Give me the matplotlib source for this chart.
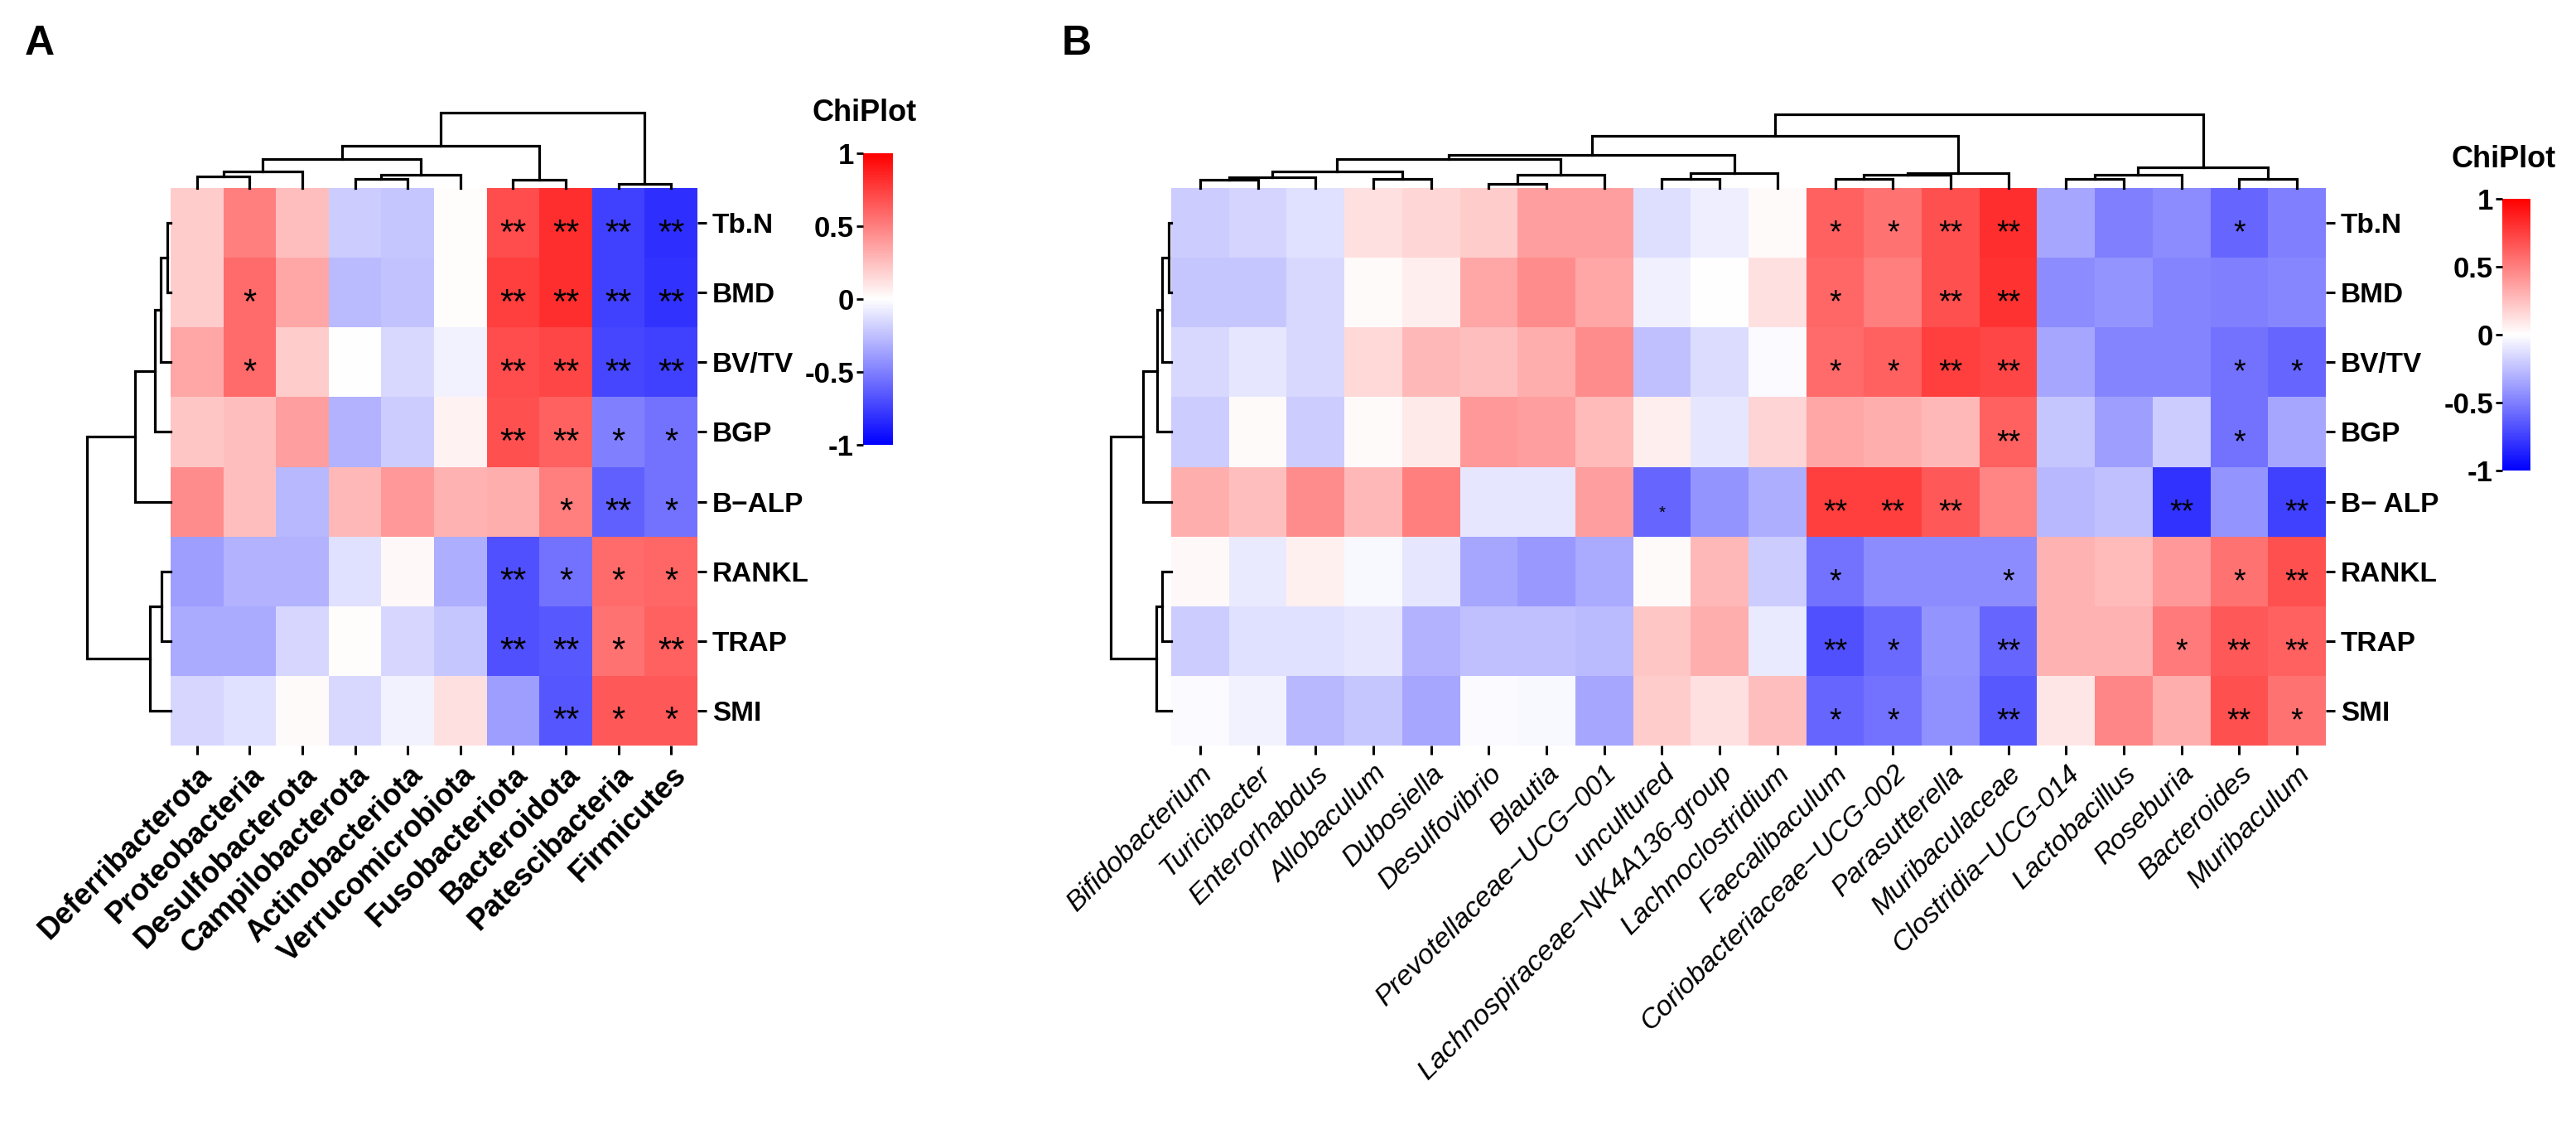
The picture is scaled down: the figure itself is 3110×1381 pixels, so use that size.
import matplotlib
matplotlib.use("Agg")
import matplotlib.pyplot as plt
import numpy as np
from matplotlib.colors import LinearSegmentedColormap

plt.rcParams['font.family'] = ['Liberation Sans', 'DejaVu Sans']

# ---------------- data ----------------
rows_a = ['Tb.N', 'BMD', 'BV/TV', 'BGP', 'B−ALP', 'RANKL', 'TRAP', 'SMI']
rows_b = ['Tb.N', 'BMD', 'BV/TV', 'BGP', 'B− ALP', 'RANKL', 'TRAP', 'SMI']

cols_a = ['Deferribacterota', 'Proteobacteria', 'Desulfobacterota', 'Campilobacterota',
          'Actinobacteriota', 'Verrucomicrobiota', 'Fusobacteriota', 'Bacteroidota',
          'Patescibacteria', 'Firmicutes']

vals_a = np.array([
    [0.20, 0.50, 0.25, -0.20, -0.22, 0.01, 0.70, 0.82, -0.75, -0.82],
    [0.20, 0.58, 0.35, -0.27, -0.24, 0.01, 0.75, 0.82, -0.75, -0.80],
    [0.35, 0.58, 0.20, 0.00, -0.15, -0.05, 0.70, 0.72, -0.72, -0.75],
    [0.22, 0.25, 0.38, -0.30, -0.20, 0.05, 0.68, 0.62, -0.50, -0.55],
    [0.45, 0.25, -0.28, 0.28, 0.40, 0.30, 0.32, 0.50, -0.62, -0.55],
    [-0.38, -0.30, -0.30, -0.12, 0.03, -0.32, -0.68, -0.55, 0.58, 0.60],
    [-0.33, -0.33, -0.16, 0.01, -0.16, -0.22, -0.68, -0.65, 0.55, 0.62],
    [-0.16, -0.12, 0.02, -0.15, -0.05, 0.12, -0.38, -0.66, 0.65, 0.65],
])

# 0 = none, 1 = *, 2 = **, s = small *
sig_a = ["0000002222", "0100002222", "0100002222", "0000002211",
         "0000000121", "0000002111", "0000002212", "0000000211"]

cols_b = ['Bifidobacterium', 'Turicibacter', 'Enterorhabdus', 'Allobaculum', 'Dubosiella',
          'Desulfovibrio', 'Blautia', 'Prevotellaceae−UCG−001', 'uncultured',
          'Lachnospiraceae−NK4A136-group', 'Lachnoclostridium', 'Faecalibaculum',
          'Coriobacteriaceae−UCG-002', 'Parasutterella', 'Muribaculaceae',
          'Clostridia−UCG-014', 'Lactobacillus', 'Roseburia', 'Bacteroides', 'Muribaculum']

vals_b = np.array([
    [-0.20, -0.17, -0.12, 0.12, 0.16, 0.20, 0.38, 0.38, -0.13, -0.07, 0.02,
     0.62, 0.55, 0.68, 0.82, -0.35, -0.50, -0.45, -0.60, -0.50],
    [-0.22, -0.22, -0.15, 0.02, 0.07, 0.35, 0.45, 0.35, -0.06, 0.00, 0.12,
     0.60, 0.50, 0.68, 0.80, -0.45, -0.42, -0.48, -0.50, -0.47],
    [-0.15, -0.10, -0.15, 0.15, 0.28, 0.25, 0.32, 0.45, -0.25, -0.14, -0.02,
     0.58, 0.62, 0.75, 0.72, -0.35, -0.48, -0.48, -0.55, -0.60],
    [-0.20, 0.02, -0.20, 0.02, 0.08, 0.40, 0.38, 0.27, 0.07, -0.10, 0.17,
     0.35, 0.32, 0.28, 0.62, -0.22, -0.38, -0.20, -0.55, -0.35],
    [0.32, 0.25, 0.45, 0.28, 0.50, -0.10, -0.10, 0.38, -0.60, -0.42, -0.32,
     0.75, 0.75, 0.65, 0.48, -0.28, -0.25, -0.80, -0.42, -0.75],
    [0.03, -0.08, 0.06, -0.03, -0.10, -0.35, -0.40, -0.33, 0.02, 0.28, -0.20,
     -0.55, -0.45, -0.45, -0.45, 0.30, 0.27, 0.40, 0.55, 0.68],
    [-0.20, -0.12, -0.12, -0.10, -0.30, -0.25, -0.25, -0.27, 0.22, 0.32, -0.08,
     -0.68, -0.58, -0.42, -0.60, 0.30, 0.30, 0.52, 0.65, 0.62],
    [-0.02, -0.05, -0.28, -0.22, -0.35, -0.02, -0.03, -0.35, 0.20, 0.12, 0.25,
     -0.60, -0.55, -0.43, -0.65, 0.10, 0.47, 0.32, 0.68, 0.55],
])

sig_b = ["00000000000112200010", "00000000000102200000", "00000000000112200011",
         "00000000000000200010", "00000000s00222000202", "00000000000100100012",
         "00000000000210200122", "00000000000110200021"]

# dendrogram merges: (node, node, height in px); new node ids follow the leaves
col_tree_a = [(0, 1, 14), (10, 2, 20), (3, 4, 11), (12, 5, 16), (11, 13, 35),
              (6, 7, 10), (14, 15, 51), (8, 9, 5), (16, 17, 91)]
row_tree_a = [(0, 1, 4), (8, 2, 12), (9, 3, 19), (10, 4, 43), (5, 6, 11),
              (12, 7, 25), (11, 13, 101)]

col_tree_b = [(0, 1, 10), (20, 2, 13), (3, 4, 11), (21, 22, 20), (5, 6, 5),
              (24, 7, 16), (23, 25, 35), (8, 9, 11), (27, 10, 18), (26, 28, 40),
              (11, 12, 11), (30, 13, 16), (31, 14, 18), (29, 32, 63), (15, 16, 11),
              (34, 17, 16), (18, 19, 11), (35, 36, 25), (33, 37, 89)]
row_tree_b = [(0, 1, 3), (8, 2, 11), (9, 3, 17), (10, 4, 34), (5, 6, 11),
              (12, 7, 18), (11, 13, 73)]

cb_ticks = [-1, -0.5, 0, 0.5, 1]
cb_labels = ['-1', '-0.5', '0', '0.5', '1']

# ---------------- drawing ----------------
W, H = 3110, 1381
fig = plt.figure(figsize=(W / 100, H / 100), dpi=100)
cmap = LinearSegmentedColormap.from_list('chiplot', ['#0000FF', '#FFFFFF', '#FF0000'])


def px_axes(x0, y0, x1, y1):
    return fig.add_axes([x0 / W, 1 - y1 / H, (x1 - x0) / W, (y1 - y0) / H])


def dendro(ax, tree, n, top):
    pos = [i + 0.5 for i in range(n)]
    hgt = [0.0] * n
    for a, b, h in tree:
        xs = [pos[a], pos[a], pos[b], pos[b]]
        ys = [hgt[a], h, h, hgt[b]]
        if top:
            ax.plot(xs, ys, color='black', lw=2.3, clip_on=False, solid_joinstyle='miter')
        else:
            ax.plot(ys, xs, color='black', lw=2.3, clip_on=False, solid_joinstyle='miter')
        pos.append((pos[a] + pos[b]) / 2)
        hgt.append(h)
    ax.axis('off')


def panel(x0, x1, vals, sig, rows, cols, col_tree, row_tree, cb_box, letter, lx,
          xfont, star_size):
    top, bot = 227, 900
    nr, nc = vals.shape
    ax = px_axes(x0, top, x1, bot)
    mesh = ax.pcolormesh(vals, cmap=cmap, vmin=-1, vmax=1)
    ax.set_xlim(0, nc)
    ax.set_ylim(nr, 0)
    for s in ax.spines.values():
        s.set_visible(False)
    ax.set_xticks(np.arange(nc) + 0.5)
    ax.set_xticklabels(cols, rotation=45, ha='right', rotation_mode='anchor', **xfont)
    ax.set_yticks(np.arange(nr) + 0.5)
    ax.set_yticklabels(rows, fontsize=24, fontweight='bold')
    ax.yaxis.tick_right()
    ax.tick_params(axis='both', length=8, width=2.2, pad=5)
    for i in range(nr):
        for j in range(nc):
            c = sig[i][j]
            if c == '0':
                continue
            txt = {'1': '*', '2': '**', 's': '*'}[c]
            fs = star_size * 0.55 if c == 's' else star_size
            ax.text(j + 0.5, i + 0.66, txt, ha='center', va='center', fontsize=fs)

    # column dendrogram
    cax_d = px_axes(x0, top - 100, x1, top)
    dendro(cax_d, col_tree, nc, True)
    cax_d.set_xlim(0, nc)
    cax_d.set_ylim(0, 100)
    # row dendrogram
    rax = px_axes(x0 - 110, top, x0, bot)
    dendro(rax, row_tree, nr, False)
    rax.set_ylim(nr, 0)
    rax.set_xlim(110, 0)

    # colour bar
    bx0, by0, bx1, by1 = cb_box
    cax = px_axes(bx0, by0, bx1, by1)
    cb = fig.colorbar(mesh, cax=cax, ticks=cb_ticks)
    cb.outline.set_visible(False)
    cax.yaxis.set_ticks_position('left')
    cax.set_yticklabels(cb_labels, fontsize=25, fontweight='bold')
    cax.tick_params(length=6, width=2, pad=2)
    fig.text((bx0 + 2) / W, 1 - (by0 - 48) / H, 'ChiPlot', ha='center', va='center',
             fontsize=26, fontweight='bold')

    fig.text(lx / W, 1 - 53 / H, letter, ha='center', va='center', fontsize=36,
             fontweight='bold')


panel(206, 842, vals_a, sig_a, rows_a, cols_a, col_tree_a, row_tree_a,
      (1042, 185, 1078, 537), 'A', 48,
      dict(fontsize=26, fontweight='bold'), 30)
panel(1414, 2808, vals_b, sig_b, rows_b, cols_b, col_tree_b, row_tree_b,
      (3021, 240, 3055, 568), 'B', 1300,
      dict(fontsize=24.5, fontstyle='italic'), 27)

fig.savefig('out.png', dpi=100, facecolor='white')
